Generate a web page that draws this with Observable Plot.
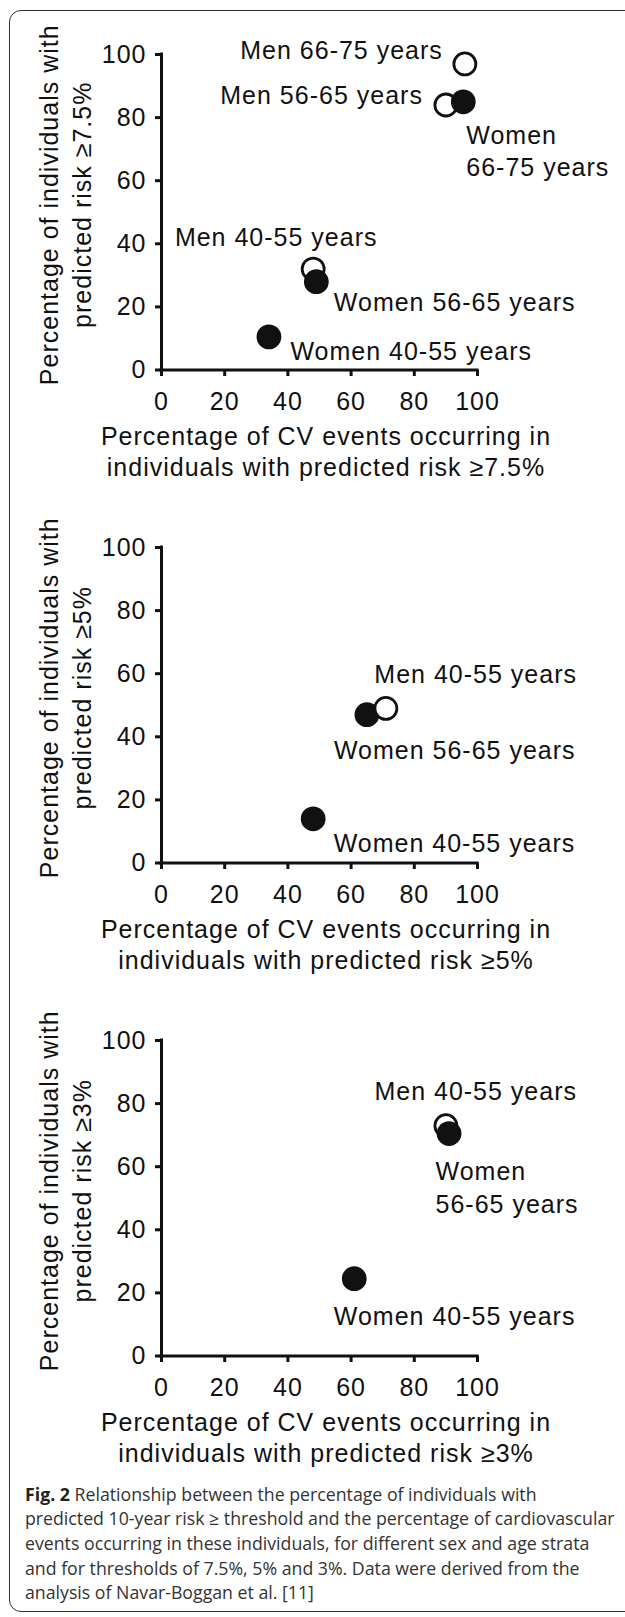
<!DOCTYPE html>
<html>
<head>
<meta charset="utf-8">
<script src="https://cdn.jsdelivr.net/npm/d3@7"></script>
<script src="https://cdn.jsdelivr.net/npm/@observablehq/plot@0.6"></script>
<style>
  html, body { margin: 0; padding: 0; background: #fff; }
  body { width: 625px; height: 1617px; overflow: hidden; position: relative; }
  #frame { position: absolute; left: 9px; top: 10px; width: 660px; height: 1602px;
           border: 1.3px solid #333; border-radius: 12px; box-sizing: border-box; }
  .panel { position: absolute; left: 0; width: 625px; }
  .panel svg { display: block; overflow: visible; }
  .panel svg text { letter-spacing: 1px; }
  #caption { position: absolute; left: 25px; top: 1482px; font-family: "Open Sans", "Noto Sans", sans-serif;
             color: #333; line-height: 24.6px; white-space: nowrap; }
  #caption b { color: #222; font-weight: 700; }
</style>
</head>
<body>
<div id="frame"></div>
<div id="p1" class="panel" style="top:0px"></div>
<div id="p2" class="panel" style="top:493px"></div>
<div id="p3" class="panel" style="top:986px"></div>
<div id="caption">
  <div class="ln" id="ln1"><b>Fig. 2</b> Relationship between the percentage of individuals with</div>
  <div class="ln" id="ln2">predicted 10-year risk ≥ threshold and the percentage of cardiovascular</div>
  <div class="ln">events occurring in these individuals, for different sex and age strata</div>
  <div class="ln">and for thresholds of 7.5%, 5% and 3%. Data were derived from the</div>
  <div class="ln">analysis of Navar-Boggan et al. [11]</div>
</div>
<script>
// ---------- data ----------
const xTicks = [0, 20, 40, 60, 80, 100];
const yTicks = [0, 20, 40, 60, 80, 100];

// Panel 1: threshold ≥7.5%
const groups75 = ["Men 40-55 years", "Men 56-65 years", "Men 66-75 years",
                  "Women 40-55 years", "Women 56-65 years", "Women 66-75 years"];
const events75 = [48, 90, 96, 34, 49, 95.5];
const individuals75 = [32, 84, 97, 10.5, 28, 85];

// Panel 2: threshold ≥5%
const groups5 = ["Women 40-55 years", "Women 56-65 years", "Men 40-55 years"];
const events5 = [48, 65, 71];
const individuals5 = [14, 47, 49];

// Panel 3: threshold ≥3%
const groups3 = ["Men 40-55 years", "Women 56-65 years", "Women 40-55 years"];
const events3 = [90, 91, 61];
const individuals3 = [73, 70.5, 24.5];

const xTitles = ["Percentage of CV events occurring in\nindividuals with predicted risk ≥7.5%",
                 "Percentage of CV events occurring in\nindividuals with predicted risk ≥5%",
                 "Percentage of CV events occurring in\nindividuals with predicted risk ≥3%"];
const yTitles = ["Percentage of individuals with\npredicted risk ≥7.5%",
                 "Percentage of individuals with\npredicted risk ≥5%",
                 "Percentage of individuals with\npredicted risk ≥3%"];

// label annotations (attached to a point, offset in pixels)
const labels75 = [
  {group: "Men 66-75 years", text: "Men 66-75 years", dx: -22, dy: -15, anchor: "end"},
  {group: "Men 56-65 years", text: "Men 56-65 years", dx: -23, dy: -11, anchor: "end"},
  {group: "Women 66-75 years", text: "Women\n66-75 years", dx: 3, dy: 47.5, anchor: "start"},
  {group: "Men 40-55 years", text: "Men 40-55 years", dx: -37, dy: -33.5, anchor: "middle"},
  {group: "Women 56-65 years", text: "Women 56-65 years", dx: 17.5, dy: 19, anchor: "start"},
  {group: "Women 40-55 years", text: "Women 40-55 years", dx: 21.5, dy: 13, anchor: "start"}
];
const labels5 = [
  {group: "Men 40-55 years", text: "Men 40-55 years", dx: -11.5, dy: -35.5, anchor: "start"},
  {group: "Women 56-65 years", text: "Women 56-65 years", dx: -33, dy: 34, anchor: "start"},
  {group: "Women 40-55 years", text: "Women 40-55 years", dx: 20.5, dy: 22.5, anchor: "start"}
];
const labels3 = [
  {group: "Men 40-55 years", text: "Men 40-55 years", dx: -71.5, dy: -36.5, anchor: "start"},
  {group: "Women 56-65 years", text: "Women\n56-65 years", dx: -13.5, dy: 52.5, anchor: "start"},
  {group: "Women 40-55 years", text: "Women 40-55 years", dx: -20.5, dy: 36, anchor: "start"}
];

// ---------- drawing ----------
const FONT = "'Liberation Sans', Arial, Helvetica, sans-serif";
const FS = 25;

function panel(groups, events, individuals, labels, xTitle, yTitle) {
  const data = groups.map((g, i) => ({
    group: g, sex: g.startsWith("Men") ? "Men" : "Women", x: events[i], y: individuals[i]
  }));
  const byGroup = new Map(data.map(d => [d.group, d]));
  const labelMarks = labels.map(l => Plot.text([byGroup.get(l.group)], {
    x: "x", y: "y", text: () => l.text, dx: l.dx, dy: l.dy,
    textAnchor: l.anchor, lineAnchor: "middle", lineHeight: 1.29,
    fontSize: FS, fill: "#111"
  }));
  return Plot.plot({
    width: 625, height: 493,
    marginTop: 54, marginLeft: 161, marginRight: 148, marginBottom: 123.5,
    style: {fontFamily: FONT, fontSize: FS + "px", color: "#111", background: "transparent", overflow: "visible"},
    x: {domain: [0, 100], label: null},
    y: {domain: [0, 100], label: null},
    color: {type: "identity"},
    marks: [
      Plot.axisX({ticks: xTicks, tickSize: 6.5, tickPadding: 15.5, strokeWidth: 3, fontSize: FS, label: null, fill: "#111"}),
      Plot.axisY({ticks: yTicks, tickSize: 6, tickPadding: 9, strokeWidth: 3, fontSize: FS, label: null, fill: "#111"}),
      Plot.ruleX([0], {stroke: "#111", strokeWidth: 3, strokeLinecap: "square"}),
      Plot.ruleY([0], {stroke: "#111", strokeWidth: 3, strokeLinecap: "square"}),
      Plot.dot(data, {
        x: "x", y: "y", r: 11,
        fill: d => d.sex === "Men" ? "white" : "#111",
        stroke: "#111", strokeWidth: 2.8
      }),
      ...labelMarks,
      Plot.text([xTitle], {
        frameAnchor: "bottom", text: d => d, dx: 6.5, dy: 80.5,
        textAnchor: "middle", lineAnchor: "middle", lineHeight: 1.24, fontSize: FS, fill: "#111"
      }),
      Plot.text([yTitle], {
        frameAnchor: "left", rotate: -90, text: d => d, dx: -97.5, dy: -7.5,
        textAnchor: "middle", lineAnchor: "middle", lineHeight: 1.33, fontSize: FS, fill: "#111"
      })
    ]
  });
}

document.getElementById("p1").append(panel(groups75, events75, individuals75, labels75, xTitles[0], yTitles[0]));
document.getElementById("p2").append(panel(groups5, events5, individuals5, labels5, xTitles[1], yTitles[1]));
document.getElementById("p3").append(panel(groups3, events3, individuals3, labels3, xTitles[2], yTitles[2]));

// caption font size fitted so that the second line spans ~590 px as in the figure
(function fitCaption() {
  const ln2 = document.getElementById("ln2");
  const cap = document.getElementById("caption");
  cap.style.fontSize = "100px";
  let w = ln2.getBoundingClientRect().width;
  const range = document.createRange();
  range.selectNodeContents(ln2);
  const rw = range.getBoundingClientRect().width;
  if (rw > 0) w = rw;
  let fs = 590 / w * 100;
  if (!isFinite(fs)) fs = 16.5;
  fs = Math.max(14, Math.min(19, fs));
  cap.style.fontSize = fs.toFixed(2) + "px";
  const half = (24.6 - 1.362 * fs) / 2;
  cap.style.top = (1501 - half - 1.069 * fs).toFixed(1) + "px";
})();
</script>
</body>
</html>
